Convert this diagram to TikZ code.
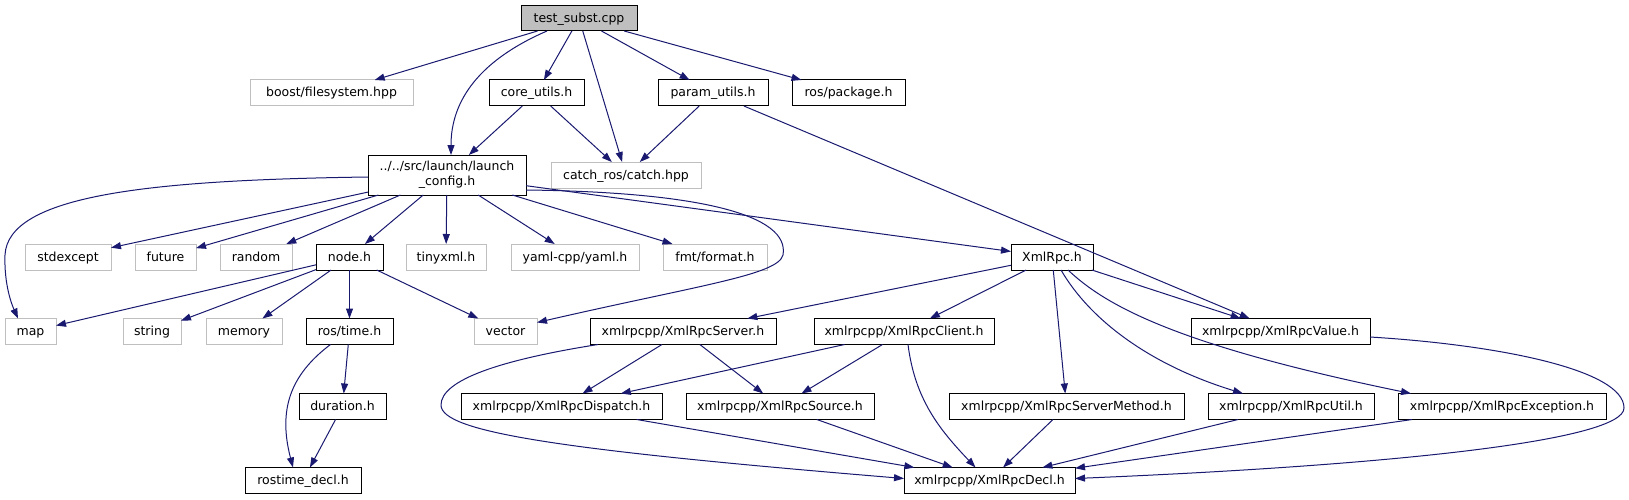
\documentclass[tikz,border=0pt]{standalone}
\usepackage{fontspec}
\setmainfont{DejaVu Sans}
\usetikzlibrary{arrows.meta}
\definecolor{edgec}{HTML}{191970}
\definecolor{greyb}{HTML}{BFBFBF}
\tikzset{
  base/.style={inner sep=0pt, outer sep=0pt, line width=1pt, text=black,
    font=\fontsize{12.5}{15}\selectfont, minimum height=26pt},
  one/.style={text height=10pt, text depth=2pt},
  doc/.style={base, one, draw=black},
  undoc/.style={base, one, draw=greyb},
  rootn/.style={base, one, draw=black, fill=greyb, minimum height=25pt},
  e/.style={draw=edgec, line width=1pt, -{Triangle[length=10pt,width=7pt]}},
}
\begin{document}
\begin{tikzpicture}[x=1pt,y=-1pt]
\useasboundingbox (0,0) rectangle (1629,500);
% row 0
\node[rootn, minimum width=116pt] (root) at (579,18.5) {test\_subst.cpp};
% row 1
\node[undoc, minimum width=163pt] (boost) at (331.5,93) {boost/filesystem.hpp};
\node[doc, minimum width=95pt] (core) at (536.5,93) {core\_utils.h};
\node[doc, minimum width=110pt] (param) at (713,93) {param\_utils.h};
\node[doc, minimum width=113pt] (rospkg) at (848.5,93) {ros/package.h};
% row 2
\node[base, draw=black, align=center, minimum width=158pt, minimum height=40pt] (launch) at (447,175) {../../src/launch/launch\\\_config.h};
\node[undoc, minimum width=150pt] (catch) at (626,175) {catch\_ros/catch.hpp};
% row 3
\node[undoc, minimum width=86pt] (stdexcept) at (68,257) {stdexcept};
\node[undoc, minimum width=61pt] (future) at (165.5,257) {future};
\node[undoc, minimum width=72pt] (random) at (256,257) {random};
\node[doc, minimum width=67pt] (nodeh) at (349.5,257) {node.h};
\node[undoc, minimum width=80pt] (tinyxml) at (446,257) {tinyxml.h};
\node[undoc, minimum width=128pt] (yaml) at (575,257) {yaml-cpp/yaml.h};
\node[undoc, minimum width=104pt] (fmt) at (715,257) {fmt/format.h};
\node[doc, minimum width=82pt] (xmlrpc) at (1052,257) {XmlRpc.h};
% row 4
\node[undoc, minimum width=51pt] (map) at (30.5,331.5) {map};
\node[undoc, minimum width=58pt] (string) at (152,331.5) {string};
\node[undoc, minimum width=76pt] (memory) at (244,331.5) {memory};
\node[doc, minimum width=87pt] (rostime) at (349.5,331.5) {ros/time.h};
\node[undoc, minimum width=63pt] (vector) at (505.5,331.5) {vector};
\node[doc, minimum width=186pt] (server) at (683,331.5) {xmlrpcpp/XmlRpcServer.h};
\node[doc, minimum width=180pt] (client) at (904,331.5) {xmlrpcpp/XmlRpcClient.h};
\node[doc, minimum width=179pt] (value) at (1280.5,331.5) {xmlrpcpp/XmlRpcValue.h};
% row 5
\node[doc, minimum width=87pt] (duration) at (342.5,406.5) {duration.h};
\node[doc, minimum width=201pt] (dispatch) at (561.5,406.5) {xmlrpcpp/XmlRpcDispatch.h};
\node[doc, minimum width=188pt] (source) at (780,406.5) {xmlrpcpp/XmlRpcSource.h};
\node[doc, minimum width=235pt] (smethod) at (1066.5,406.5) {xmlrpcpp/XmlRpcServerMethod.h};
\node[doc, minimum width=166pt] (util) at (1291,406.5) {xmlrpcpp/XmlRpcUtil.h};
\node[doc, minimum width=208pt] (exception) at (1502,406.5) {xmlrpcpp/XmlRpcException.h};
% row 6
\node[doc, minimum width=116pt] (rtdecl) at (303,480.5) {rostime\_decl.h};
\node[doc, minimum width=171pt] (decl) at (989.5,480.5) {xmlrpcpp/XmlRpcDecl.h};

% edges from root
\draw[e] (root) -- (boost);
\draw[e] ([xshift=-32pt]root.south) .. controls (480,60) and (451,100) .. ([xshift=4pt]launch.north);
\draw[e] (root) -- (core);
\draw[e] (root) -- (catch);
\draw[e] (root) -- (param);
\draw[e] (root) -- (rospkg);
\draw[e] (core) -- (launch);
\draw[e] (core) -- (catch);
\draw[e] (param) -- (catch);
\draw[e] (param) -- (value);
% launch_config
\draw[e] ([yshift=-2pt]launch.west) .. controls (150,180) and (8,195) .. (5,255) .. controls (4,285) and (12,305) .. ([xshift=-12.5pt]map.north);
\draw[e] (launch) -- (stdexcept);
\draw[e] (launch) -- (future);
\draw[e] (launch) -- (random);
\draw[e] (launch) -- (nodeh);
\draw[e] (launch) -- (tinyxml);
\draw[e] (launch) -- (yaml);
\draw[e] (launch) -- (fmt);
\draw[e] ([yshift=-15pt]launch.east) .. controls (700,192) and (790,215) .. (783,255) .. controls (778,275) and (700,285) .. ([yshift=9pt]vector.east);
\draw[e] (launch) -- (xmlrpc);
% node.h
\draw[e] (nodeh) -- (map);
\draw[e] (nodeh) -- (string);
\draw[e] (nodeh) -- (memory);
\draw[e] (nodeh) -- (rostime);
\draw[e] (nodeh) -- (vector);
% ros/time.h
\draw[e] (rostime) -- (duration);
\draw[e] ([xshift=-19pt]rostime.south) .. controls (290,375) and (278,410) .. ([xshift=-10pt]rtdecl.north);
\draw[e] (duration) -- (rtdecl);
% XmlRpc.h
\draw[e] (xmlrpc) -- (server);
\draw[e] (xmlrpc) -- (client);
\draw[e] (xmlrpc) -- (smethod);
\draw[e] ([xshift=9pt]xmlrpc.south) .. controls (1090,320) and (1150,365) .. ([xshift=-48pt]util.north);
\draw[e] ([xshift=16pt]xmlrpc.south) .. controls (1105,305) and (1175,345) .. ([xshift=-91pt]exception.north);
\draw[e] (xmlrpc) -- (value);
% server / client
\draw[e] (server) -- (dispatch);
\draw[e] (server) -- (source);
\draw[e] ([xshift=-85pt]server.south) .. controls (500,360) and (441,380) .. (441,405) .. controls (441,432) and (560,450) .. ([yshift=2pt]decl.west);
\draw[e] (client) -- (dispatch);
\draw[e] (client) -- (source);
\draw[e] ([xshift=4pt]client.south) .. controls (915,400) and (940,430) .. ([xshift=-14pt]decl.north);
% into decl
\draw[e] (dispatch) -- (decl);
\draw[e] (source) -- (decl);
\draw[e] (smethod) -- (decl);
\draw[e] (util) -- (decl);
\draw[e] (exception) -- (decl);
\draw[e] ([yshift=-5.5pt]value.east) .. controls (1500,345) and (1624,370) .. (1624,408) .. controls (1624,440) and (1400,465) .. ([yshift=2pt]decl.east);
\end{tikzpicture}
\end{document}
